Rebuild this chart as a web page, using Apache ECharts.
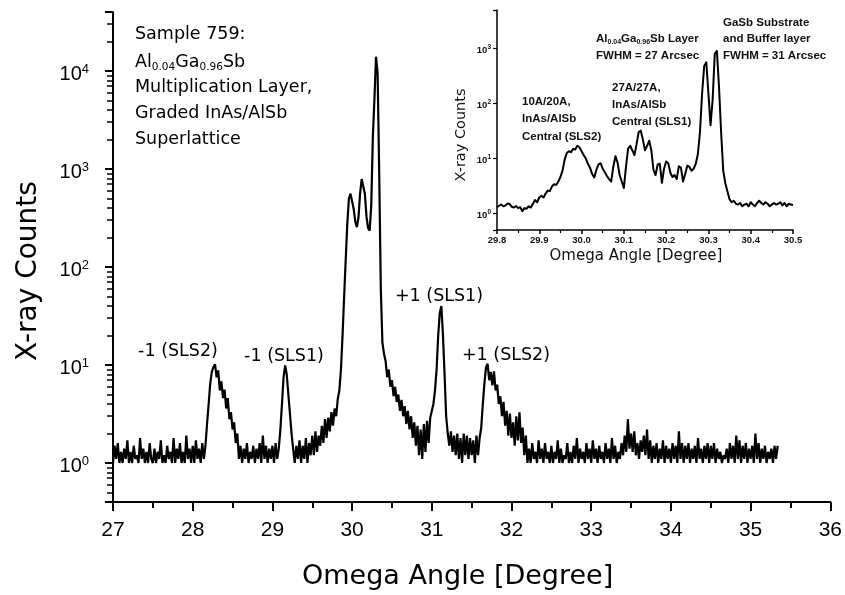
<!DOCTYPE html>
<html>
<head>
<meta charset="utf-8">
<script src="https://cdn.jsdelivr.net/npm/echarts@6/dist/echarts.min.js"></script>
<style>
  html, body { margin: 0; padding: 0; background: #fff; }
  #chart { width: 845px; height: 595px; }
</style>
</head>
<body>
<div id="chart"></div>
<script>
// Wide omega scan: counts sampled every 0.02 degree from 27.00 degree
const OMEGA_START = 27.00;
const OMEGA_STEP = 0.02;
const counts = [
  1.0,1.5,1.1,1.6,1.0,1.3,1.0,1.4,1.1,1.7,1.0,1.3,1.0,1.5,1.1,1.2,1.0,1.8,1.1,1.4,1.0,1.3,1.0,1.6,1.1,
  1.0,1.4,1.0,1.3,1.1,1.7,1.0,1.2,1.0,1.5,1.1,1.3,1.0,1.8,1.0,1.4,1.1,1.6,1.0,1.3,1.0,1.9,1.1,1.4,1.0,
  1.5,1.0,1.7,1.1,1.4,1.0,1.6,1.1,1.5,2.5,4.0,6.5,8.5,9.5,10.2,7.5,8.8,5.5,6.8,4.6,5.6,3.6,4.6,2.8,3.3,
  2.2,2.6,1.6,2.0,1.1,1.5,1.0,1.4,1.1,1.6,1.0,1.3,1.1,1.5,1.0,1.4,1.1,1.6,1.0,1.9,1.1,1.5,1.0,1.4,1.1,
  1.5,1.0,1.6,1.1,1.4,2.2,4.0,7.5,9.9,8.0,5.0,3.2,2.0,1.4,1.0,1.5,1.1,1.7,1.0,1.5,1.1,1.8,1.0,1.6,1.2,
  1.9,1.2,2.1,1.3,1.9,1.5,2.4,1.6,2.8,1.8,2.9,2.1,3.3,2.4,3.6,3.0,4.5,5.5,9,20,50,120,280,500,560,
  540,390,290,255,320,560,790,820,560,330,250,235,420,2100,5200,14000,9500,900,60,17,13,11,7.5,9,6,
  7.0,4.8,6.0,4.2,5.0,3.4,4.4,3.0,3.8,2.5,3.4,2.2,3.0,1.8,2.6,1.5,2.4,1.2,2.2,1.1,2.5,1.3,2.7,1.6,2.9,
  3.0,4.0,5.5,9,20,34,40,20,8,3.0,2.0,1.5,2.1,1.3,1.9,1.2,2.0,1.1,1.8,1.0,2.0,1.2,1.9,1.1,1.8,
  1.2,1.7,1.0,1.9,1.2,1.8,2.3,4.0,6.5,9.5,10.3,7.0,8.5,6.2,8.6,5.5,6.3,4.0,4.8,3.0,4.2,2.4,3.4,1.9,3.2,
  1.8,2.6,1.5,3.0,1.7,3.3,1.6,2.3,1.2,1.9,1.0,1.4,1.0,1.6,1.1,1.3,1.0,1.7,1.1,1.4,1.0,1.6,1.1,1.3,1.0,
  1.5,1.0,1.3,1.1,1.7,1.0,1.4,1.0,1.2,1.1,1.6,1.0,1.3,1.0,1.5,1.1,1.8,1.0,1.4,1.1,1.3,1.0,1.6,1.1,1.4,
  1.0,1.7,1.1,1.4,1.0,1.5,1.1,1.3,1.0,1.6,1.1,1.4,1.0,1.8,1.1,1.5,1.0,1.3,1.1,1.6,1.2,1.9,1.3,2.8,1.4,
  2.0,1.3,2.1,1.2,1.6,1.1,1.7,1.3,1.9,1.2,2.2,1.1,1.7,1.0,1.5,1.1,1.6,1.0,1.4,1.1,1.7,1.0,1.5,1.1,1.4,
  1.0,1.6,1.1,1.5,1.0,2.1,1.1,1.6,1.0,1.5,1.1,1.6,1.0,1.4,1.1,1.5,1.0,1.8,1.1,1.4,1.0,1.5,1.1,1.6,1.0,
  1.5,1.1,1.6,1.0,1.4,1.1,1.3,1.0,1.2,1.1,1.4,1.0,1.6,1.1,1.5,1.0,1.9,1.1,1.7,1.0,1.5,1.1,1.6,1.0,1.4,
  1.1,1.5,1.0,2.0,1.1,1.6,1.0,1.4,1.1,1.5,1.0,1.3,1.1,1.4,1.0,1.5,1.1,1.5
];

// High-resolution scan around the substrate peak: every 0.005 degree from 29.800
const INSET_START = 29.800;
const INSET_STEP = 0.005;
const insetCounts = [
  1.30,1.38,1.45,1.35,1.40,1.52,1.48,1.32,1.28,1.36,1.25,1.30,1.10,1.25,1.22,1.35,1.28,1.50,1.75,1.60,
  1.95,2.10,1.95,2.30,2.60,2.55,3.10,3.40,3.30,3.80,4.60,6.0,9.5,12.5,13.5,13.0,15.0,14.5,17.0,16.0,
  13.5,11.5,10.0,8.0,6.8,5.2,4.5,6.2,7.8,8.2,6.5,5.6,4.8,4.2,3.8,7.0,11.0,8.5,5.0,3.8,
  2.9,7.0,15.0,17.0,14.0,11.5,18.0,30.0,32.0,22.0,14.0,17.0,21.0,14.0,6.2,5.0,7.8,8.0,3.6,6.5,
  8.8,8.2,5.5,4.6,5.0,4.2,7.2,6.8,3.8,5.2,7.4,7.0,6.0,6.5,8.0,12.0,30,150,480,560,
  150,40,120,800,900,200,30,6,3.5,2.5,1.8,1.6,1.7,1.5,1.45,1.55,1.35,1.45,1.5,1.35,
  1.6,1.45,1.35,1.55,1.7,1.55,1.45,1.6,1.5,1.35,1.45,1.55,1.45,1.5,1.6,1.4,1.55,1.35,1.5,1.45,
  1.42
];

// Axis ranges and tick labels
const MAIN_X = { min: 27, max: 36, step: 1 };
const MAIN_Y = { min: 0.4, max: 40000 };
const INSET_X = { min: 29.8, max: 30.5, step: 0.1 };
const INSET_Y = { min: 0.5, max: 5000 };
const DECADE_LABELS = [0, 1, 2, 3, 4];

const mainData = counts.map((c, i) => [+(OMEGA_START + i * OMEGA_STEP).toFixed(3), c]);
const insetData = insetCounts.map((c, i) => [+(INSET_START + i * INSET_STEP).toFixed(4), c]);

function powerLabel(v) {
  const e = Math.round(Math.log10(v));
  if (Math.abs(Math.log10(v) - e) > 1e-6 || DECADE_LABELS.indexOf(e) < 0) return '';
  return '{b|10}{s|' + e + '}';
}

const MAIN_FONT = 'DejaVu Sans';
const TICK_FONT = 'Liberation Sans';

function mainText(x, y, text, align) {
  return {
    type: 'text', x: x, y: y, silent: true,
    style: {
      text: text, fill: '#000', fontFamily: MAIN_FONT, fontSize: 17.5,
      align: align || 'left', verticalAlign: 'middle',
      textAlign: align || 'left', textVerticalAlign: 'middle',
      rich: {
        n: { fontFamily: MAIN_FONT, fontSize: 17.5, fill: '#000', color: '#000' },
        sub: { fontFamily: MAIN_FONT, fontSize: 10.5, fill: '#000', color: '#000', padding: [11, 0, 0, 0] }
      }
    }
  };
}
function insetText(x, y, text) {
  return {
    type: 'text', x: x, y: y, silent: true,
    style: {
      text: text, fill: '#111', fontFamily: TICK_FONT, fontWeight: 'bold', fontSize: 11.5,
      align: 'left', verticalAlign: 'middle', textAlign: 'left', textVerticalAlign: 'middle',
      rich: {
        n: { fontFamily: TICK_FONT, fontWeight: 'bold', fontSize: 11.5, fill: '#111', color: '#111' },
        sub: { fontFamily: TICK_FONT, fontWeight: 'bold', fontSize: 7, fill: '#111', color: '#111', padding: [7, 0, 0, 0] }
      }
    }
  };
}

const annotations = [
  mainText(135, 34, 'Sample 759:'),
  mainText(135, 62, '{n|Al}{sub|0.04}{n|Ga}{sub|0.96}{n|Sb}'),
  mainText(135, 87, 'Multiplication Layer,'),
  mainText(135, 113, 'Graded InAs/AlSb'),
  mainText(135, 139, 'Superlattice'),
  mainText(178, 351, '-1 (SLS2)', 'center'),
  mainText(284, 356, '-1 (SLS1)', 'center'),
  mainText(439, 296, '+1 (SLS1)', 'center'),
  mainText(506, 355, '+1 (SLS2)', 'center'),
  insetText(723, 23, 'GaSb Substrate'),
  insetText(723, 39, 'and Buffer layer'),
  insetText(723, 55.5, 'FWHM = 31 Arcsec'),
  insetText(596, 39, '{n|Al}{sub|0.04}{n|Ga}{sub|0.96}{n|Sb Layer}'),
  insetText(596, 55.5, 'FWHM = 27 Arcsec'),
  insetText(612, 88, '27A/27A,'),
  insetText(612, 104.5, 'InAs/AlSb'),
  insetText(612, 121.5, 'Central (SLS1)'),
  insetText(522, 101.5, '10A/20A,'),
  insetText(522, 119, 'InAs/AlSb'),
  insetText(522, 137, 'Central (SLS2)')
];

const chart = echarts.init(document.getElementById('chart'), null, { renderer: 'canvas' });

const option = {
  animation: false,
  backgroundColor: '#fff',
  grid: [
    { left: 113, top: 12, width: 720, height: 495 },
    { left: 497, top: 10, width: 296, height: 220 }
  ],
  xAxis: [
    {
      type: 'value', gridIndex: 0, min: MAIN_X.min, max: MAIN_X.max, interval: MAIN_X.step,
      axisLine: { onZero: false, lineStyle: { color: '#000', width: 2 } },
      axisTick: { length: 9, lineStyle: { color: '#000', width: 2 } },
      minorTick: { show: true, splitNumber: 2, length: 6, lineStyle: { color: '#000', width: 2 } },
      splitLine: { show: false },
      axisLabel: { fontFamily: TICK_FONT, fontSize: 21, color: '#000', margin: 18 },
      name: 'Omega Angle [Degree]', nameLocation: 'middle', nameGap: 61,
      nameTextStyle: { fontFamily: MAIN_FONT, fontSize: 27, color: '#000', padding: [0, 28, 0, 0] }
    },
    {
      type: 'value', gridIndex: 1, min: INSET_X.min, max: INSET_X.max, interval: INSET_X.step,
      axisLine: { onZero: false, lineStyle: { color: '#000', width: 1.5 } },
      axisTick: { length: 4, lineStyle: { color: '#000', width: 1.5 } },
      minorTick: { show: true, splitNumber: 2, length: 3, lineStyle: { color: '#000', width: 1.2 } },
      splitLine: { show: false },
      axisLabel: {
        fontFamily: TICK_FONT, fontWeight: 'bold', fontSize: 9.5, color: '#111', margin: 5,
        formatter: v => v.toFixed(1)
      },
      name: 'Omega Angle [Degree]', nameLocation: 'middle', nameGap: 19,
      nameTextStyle: { fontFamily: MAIN_FONT, fontSize: 15, color: '#111', padding: [0, 18, 0, 0] }
    }
  ],
  yAxis: [
    {
      type: 'log', logBase: 10, gridIndex: 0, min: MAIN_Y.min, max: MAIN_Y.max,
      axisLine: { onZero: false, lineStyle: { color: '#000', width: 2 } },
      axisTick: { length: 8, lineStyle: { color: '#000', width: 2 } },
      minorTick: { show: true, splitNumber: 9, length: 6, lineStyle: { color: '#000', width: 1.5 } },
      splitLine: { show: false },
      axisLabel: {
        margin: 24, formatter: powerLabel,
        rich: {
          b: { fontFamily: TICK_FONT, fontSize: 20, color: '#000', padding: [6, 0, 0, 0] },
          s: { fontFamily: TICK_FONT, fontSize: 13, color: '#000', padding: [0, 0, 4, 0] }
        }
      },
      name: 'X-ray Counts', nameLocation: 'middle', nameGap: 70,
      nameTextStyle: { fontFamily: MAIN_FONT, fontSize: 28, color: '#000', padding: [0, 28, 0, 0] }
    },
    {
      type: 'log', logBase: 10, gridIndex: 1, min: INSET_Y.min, max: INSET_Y.max,
      axisLine: { onZero: false, lineStyle: { color: '#000', width: 1.5 } },
      axisTick: { length: 4, lineStyle: { color: '#000', width: 1.2 } },
      splitLine: { show: false },
      axisLabel: {
        margin: 6, formatter: powerLabel,
        rich: {
          b: { fontFamily: TICK_FONT, fontWeight: 'bold', fontSize: 9.5, color: '#111', padding: [3, 0, 0, 0] },
          s: { fontFamily: TICK_FONT, fontWeight: 'bold', fontSize: 6.5, color: '#111', padding: [0, 0, 2, 0] }
        }
      },
      name: 'X-ray Counts', nameLocation: 'middle', nameGap: 28,
      nameTextStyle: { fontFamily: MAIN_FONT, fontSize: 14.5, color: '#111', padding: [0, 30, 0, 0] }
    }
  ],
  series: [
    {
      name: 'scan', type: 'line', xAxisIndex: 0, yAxisIndex: 0, data: mainData,
      symbol: 'none', sampling: null, clip: true,
      lineStyle: { color: '#000', width: 2.2, join: 'bevel' }
    },
    {
      name: 'zoom', type: 'line', xAxisIndex: 1, yAxisIndex: 1, data: insetData,
      symbol: 'none', clip: true,
      lineStyle: { color: '#000', width: 2, join: 'round' }
    }
  ],
  graphic: { elements: annotations }
};

chart.setOption(option);
</script>
</body>
</html>
